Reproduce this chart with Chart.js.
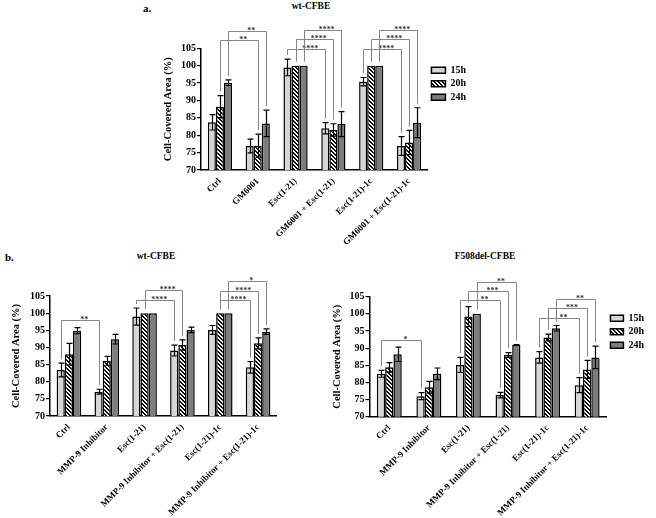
<!DOCTYPE html>
<html><head><meta charset="utf-8">
<script src="https://cdn.jsdelivr.net/npm/chart.js@4.4.1/dist/chart.umd.min.js"></script>
<style>
html,body{margin:0;padding:0;background:#fff;width:656px;height:518px;overflow:hidden;position:relative;}
canvas{position:absolute;}
.lbl{position:absolute;font-family:"Liberation Serif","Times New Roman",serif;font-weight:bold;color:#000;white-space:nowrap;line-height:1;}
</style></head><body>
<div class="lbl" style="left:143px;top:3px;font-size:11px">a.</div>
<div class="lbl" style="left:311px;top:2px;font-size:9.5px;transform:translateX(-50%)">wt-CFBE</div>
<div class="lbl" style="left:5px;top:252px;font-size:11px">b.</div>
<div class="lbl" style="left:156px;top:252px;font-size:9.5px;transform:translateX(-50%)">wt-CFBE</div>
<div class="lbl" style="left:485px;top:252px;font-size:9.5px;transform:translateX(-50%)">F508del-CFBE</div>
<canvas id="cA" width="316" height="270" style="left:160px;top:0px"></canvas>
<canvas id="cB1" width="269" height="256" style="left:8px;top:262px"></canvas>
<canvas id="cB2" width="325" height="256" style="left:329px;top:262px"></canvas>
<script>
// ---------- data ----------
const categoriesA = ['Ctrl', 'GM6001', 'Esc(1-21)', 'GM6001 + Esc(1-21)', 'Esc(1-21)-1c', 'GM6001 + Esc(1-21)-1c'];
const categoriesB = ['Ctrl', 'MMP-9 Inhibitor', 'Esc(1-21)', 'MMP-9 Inhibitor + Esc(1-21)', 'Esc(1-21)-1c', 'MMP-9 Inhibitor + Esc(1-21)-1c'];
const seriesNames = ['15h', '20h', '24h'];
const yTickValues = [70, 75, 80, 85, 90, 95, 100, 105];
const yAxisTitle = 'Cell-Covered Area (%)';

// panel a: wt-CFBE, GM6001
const a15 = [83.7, 76.9, 99.5, 82.0, 95.4, 76.9];
const a15sd = [2.2, 2.0, 2.4, 1.6, 1.2, 2.7];
const a20 = [88.2, 77.0, 100, 81.5, 100, 77.9];
const a20sd = [3.2, 3.3, 0, 1.8, 0, 3.5];
const a24 = [95.1, 83.4, 100, 83.2, 100, 83.6];
const a24sd = [0.8, 3.8, 0, 3.6, 0, 4.3];

// panel b left: wt-CFBE, MMP-9 inhibitor
const b1_15 = [83.4, 77.1, 99.0, 89.1, 95.1, 84.2];
const b1_15sd = [2.0, 0.7, 2.5, 1.6, 1.3, 1.7];
const b1_20 = [88.0, 86.1, 100, 90.7, 100, 91.2];
const b1_20sd = [3.2, 1.3, 0, 1.5, 0, 1.6];
const b1_24 = [94.9, 92.4, 100, 95.1, 100, 94.6];
const b1_24sd = [0.9, 1.4, 0, 0.8, 0, 0.8];

// panel b right: F508del-CFBE, MMP-9 inhibitor
const b2_15 = [82.5, 76.0, 85.1, 76.3, 87.3, 79.2];
const b2_15sd = [1.0, 1.0, 2.2, 0.8, 1.7, 2.2];
const b2_20 = [84.4, 78.6, 99.2, 88.0, 93.1, 83.8];
const b2_20sd = [1.4, 1.7, 2.9, 0.7, 1.0, 2.6];
const b2_24 = [88.2, 82.5, 100, 90.9, 95.8, 87.3];
const b2_24sd = [2.1, 1.7, 0, 0.1, 0.8, 3.3];

// significance brackets: [fromCategory, fromSeries, toCategory, toSeries, level (y value), label]
const bracketsA = [
  [0, 1, 1, 1, 107.4, '**'], [0, 2, 1, 2, 110.0, '**'],
  [2, 0, 3, 0, 104.7, '****'], [2, 1, 3, 1, 107.6, '****'], [2, 2, 3, 2, 110.2, '****'],
  [4, 0, 5, 0, 104.7, '****'], [4, 1, 5, 1, 107.6, '****'], [4, 2, 5, 2, 110.2, '****']
];
const bracketsB1 = [
  [0, 0, 1, 0, 98.0, '**'],
  [2, 0, 3, 0, 103.8, '****'], [2, 1, 3, 1, 106.7, '****'],
  [4, 1, 5, 0, 103.8, '****'], [4, 1, 5, 1, 106.5, '****'], [4, 2, 5, 2, 109.3, '*']
];
const bracketsB2 = [
  [0, 0, 1, 0, 92.5, '*'],
  [2, 0, 3, 0, 104.1, '**'], [2, 1, 3, 1, 106.7, '***'], [2, 2, 3, 2, 109.4, '**'],
  [4, 0, 5, 0, 98.9, '**'], [4, 1, 5, 1, 101.6, '***'], [4, 2, 5, 2, 104.4, '**']
];

// ---------- styling ----------
const FONT = "'Liberation Serif','Times New Roman',serif";
Chart.defaults.font.family = FONT;
Chart.defaults.font.weight = 'bold';
Chart.defaults.color = '#000';

function makeHatch() {
  const c = document.createElement('canvas');
  c.width = 4; c.height = 4;
  const g = c.getContext('2d');
  g.fillStyle = '#fff'; g.fillRect(0, 0, 4, 4);
  g.fillStyle = '#000';
  for (let r = 0; r < 4; r++) { g.fillRect(r, r, 1, 1); g.fillRect((r + 1) % 4, r, 1, 1); }
  return g.createPattern(c, 'repeat');
}
const hatch = makeHatch();
const fills = ['#d6d6d6', hatch, '#7d7d7d'];

const errorBarPlugin = {
  id: 'errorBars',
  afterDatasetsDraw(chart) {
    const ctx = chart.ctx, y = chart.scales.y;
    chart.data.datasets.forEach((ds, i) => {
      const meta = chart.getDatasetMeta(i);
      meta.data.forEach((bar, j) => {
        const e = ds.errors[j];
        if (!e) return;
        const v = ds.data[j];
        const yt = y.getPixelForValue(v + e), yb = y.getPixelForValue(v - e);
        const x = Math.round(bar.x) + 0.5;
        ctx.save();
        ctx.strokeStyle = '#000'; ctx.lineWidth = 1.2;
        ctx.beginPath();
        ctx.moveTo(x, yt); ctx.lineTo(x, yb);
        ctx.moveTo(x - 3, yt); ctx.lineTo(x + 3, yt);
        ctx.moveTo(x - 3, yb); ctx.lineTo(x + 3, yb);
        ctx.stroke();
        ctx.restore();
      });
    });
  }
};

const bracketPlugin = {
  id: 'brackets',
  afterDatasetsDraw(chart, args, opts) {
    const items = opts.items || [];
    const ctx = chart.ctx, y = chart.scales.y;
    const topOf = (c, s) => {
      const ds = chart.data.datasets[s];
      return y.getPixelForValue(ds.data[c] + (ds.errors[c] || 0));
    };
    items.forEach(([c1, s1, c2, s2, lvl, txt]) => {
      const x1 = Math.round(chart.getDatasetMeta(s1).data[c1].x) + 0.5;
      const x2 = Math.round(chart.getDatasetMeta(s2).data[c2].x) + 0.5;
      const ly = Math.round(y.getPixelForValue(lvl)) + 0.5;
      const b1 = topOf(c1, s1) - 4, b2 = topOf(c2, s2) - 4;
      ctx.save();
      ctx.strokeStyle = '#858585'; ctx.lineWidth = 1;
      ctx.beginPath();
      ctx.moveTo(x1, b1); ctx.lineTo(x1, ly); ctx.lineTo(x2, ly); ctx.lineTo(x2, b2);
      ctx.stroke();
      ctx.fillStyle = '#333';
      ctx.font = 'bold 8px ' + FONT;
      ctx.textAlign = 'center'; ctx.textBaseline = 'alphabetic';
      ctx.fillText(txt, x1 + (x2 - x1) * 0.6, ly + 1.5);
      ctx.restore();
    });
  }
};

function makeChart(id, cats, vals, sds, brackets, L) {
  const datasets = seriesNames.map((name, i) => ({
    label: name,
    data: vals[i],
    errors: sds[i],
    backgroundColor: fills[i],
    borderColor: '#000',
    borderWidth: 1.5,
    categoryPercentage: L.catPct,
    barPercentage: 1.0
  }));
  return new Chart(document.getElementById(id), {
    type: 'bar',
    data: { labels: cats, datasets },
    plugins: [errorBarPlugin, bracketPlugin],
    options: {
      responsive: false,
      devicePixelRatio: 1,
      animation: false,
      layout: { padding: { top: L.padTop, left: 0, right: 0, bottom: 0 } },
      plugins: {
        tooltip: { enabled: false },
        brackets: { items: brackets },
        legend: L.legend ? {
          display: true, position: 'right', align: 'start', maxWidth: 50,
          title: { display: true, text: ' ', padding: 0, font: { size: 10, lineHeight: L.legTitle + 'px' } },
          labels: { boxWidth: L.boxW, boxHeight: 6, padding: 3.5, color: '#000', font: { family: FONT, weight: 'bold', size: 10 } }
        } : { display: false }
      },
      scales: {
        x: {
          afterFit: s => { s.height = L.xH; },
          ticks: { color: '#000', font: { family: FONT, weight: 'bold', size: 9 }, maxRotation: 45, minRotation: 45, autoSkip: false, padding: 6 },
          grid: { display: false, drawTicks: false },
          border: { display: true, color: '#000', width: 1.5 }
        },
        y: {
          min: yTickValues[0], max: yTickValues[yTickValues.length - 1],
          afterBuildTicks: s => { s.ticks = yTickValues.map(v => ({ value: v })); },
          afterFit: s => { s.width = L.yW; },
          ticks: { color: '#000', font: { family: FONT, weight: 'bold', size: 10 }, padding: 1, callback: v => String(v) },
          grid: { drawOnChartArea: false, drawTicks: true, tickLength: 4, color: '#000', lineWidth: 1.2 },
          border: { display: true, color: '#000', width: 1.5 },
          title: { display: true, text: yAxisTitle, color: '#000', font: { family: FONT, weight: 'bold', size: 10.5 }, padding: { top: 2, bottom: 2 } }
        }
      }
    }
  });
}

makeChart('cA', categoriesA, [a15, a20, a24], [a15sd, a20sd, a24sd], bracketsA,
  { padTop: 48.3, xH: 100, yW: 41, catPct: 0.64, legend: true, legTitle: 13.5, boxW: 14 });
makeChart('cB1', categoriesB, [b1_15, b1_20, b1_24], [b1_15sd, b1_20sd, b1_24sd], bracketsB1,
  { padTop: 34, xH: 102, yW: 42, catPct: 0.65, legend: false });
makeChart('cB2', categoriesB, [b2_15, b2_20, b2_24], [b2_15sd, b2_20sd, b2_24sd], bracketsB2,
  { padTop: 34.7, xH: 101.3, yW: 40.5, catPct: 0.63, legend: true, legTitle: 13, boxW: 13 });
</script>
</body></html>
